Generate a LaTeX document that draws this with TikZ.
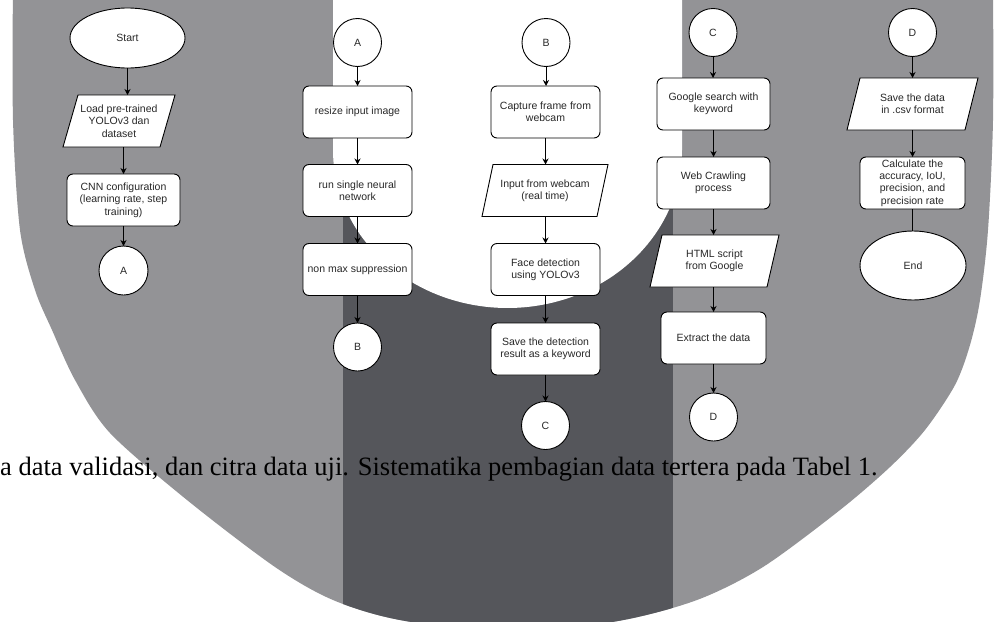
\documentclass[tikz,border=0pt]{standalone}
\usepackage{fontspec}
\setmainfont{Liberation Sans}
\newfontfamily\parafont{Liberation Serif}
\usetikzlibrary{shapes.geometric,arrows.meta}
\pgfdeclarelayer{back}
\pgfdeclarelayer{mid}
\pgfsetlayers{back,mid,main}
\definecolor{lightg}{RGB}{147,147,150}
\definecolor{darkg}{RGB}{85,86,91}
\definecolor{ink}{RGB}{40,40,40}
\tikzset{
 box/.style={draw=black, line width=0.9pt, fill=white, text=ink, align=center, inner sep=1pt, outer sep=0pt, font=\fontsize{10.5}{12.4}\selectfont},
 proc/.style={box, rectangle, rounded corners=6pt, minimum width=109pt, minimum height=52pt},
 conn/.style={box, circle, minimum size=48pt, inner sep=0pt},
 term/.style={box, ellipse, inner sep=0pt},
 iotext/.style={box, draw=none, fill=none, rectangle, minimum height=52pt},
 ioshape/.style={draw=black, line width=0.9pt, fill=white, line join=miter},
 arr/.style={draw=black, line width=0.9pt, -{Stealth[length=6pt,width=6pt]}},
 link/.style={draw=black, line width=0.9pt},
}
\def\outershape{plot[smooth] coordinates {(13,-20) (13,120) (20,230) (35,290) (52,330) (75,380) (110,433) (187,500) (275,567) (333,600) (400,620) (510,633) (618,621) (697,600) (763,567) (840,510) (890,467) (925,430) (955,385) (970,345) (980,300) (988,230) (993,120) (993,-20)} -- cycle}
\begin{document}
\begin{tikzpicture}[x=1pt,y=-1pt]
\useasboundingbox (0,0) rectangle (998,621);
\clip (0,0) rectangle (998,621);
\begin{pgfonlayer}{back}
\fill[white] (0,0) rectangle (998,621);
\fill[lightg] \outershape;
\begin{scope}
\clip \outershape;
\fill[darkg] (343,-20) rectangle (673,660);
\end{scope}
\fill[white] (333,-20) -- (333,150) -- plot[domain=180:360, samples=90] ({507.5+174.5*cos(\x)},{150-158*sin(\x)}) -- (682,-20) -- cycle;
\end{pgfonlayer}

% column 1
\node[term, minimum width=115pt, minimum height=60pt] (start) at (127.5,38) {Start};
\node[iotext, minimum width=112pt] (load) at (119,121) {Load pre-trained\\YOLOv3 dan\\dataset};
\node[proc, minimum width=113pt] (cnn) at (123.5,200) {CNN configuration\\(learning rate, step\\training)};
\node[conn, minimum size=49pt] (a1) at (123.5,270.5) {A};
% column 2
\node[conn] (a2) at (357.5,42.5) {A};
\node[proc] (resize) at (357.5,112) {resize input image};
\node[proc] (run) at (357.5,190.5) {run single neural\\network};
\node[proc] (nms) at (357.5,269.5) {non max suppression};
\node[conn] (b1) at (357.5,347) {B};
% column 3
\node[conn] (b2) at (546,42.5) {B};
\node[proc] (capture) at (545.5,112) {Capture frame from\\webcam};
\node[iotext, minimum width=126pt] (input) at (545,190.5) {Input from webcam\\(real time)};
\node[proc] (face) at (545.5,269.5) {Face detection\\using YOLOv3};
\node[proc] (save) at (545.5,349) {Save the detection\\result as a keyword};
\node[conn] (c1) at (545.5,425.5) {C};
% column 4
\node[conn] (c2) at (713,32.5) {C};
\node[proc, minimum width=113pt] (google) at (713.5,104) {Google search with\\keyword};
\node[proc, minimum width=113pt] (web) at (713.5,183) {Web Crawling\\process};
\node[iotext, minimum width=129pt] (html) at (714.5,261) {HTML script\\from Google};
\node[proc, minimum width=105pt] (extract) at (713.5,338) {Extract the data};
\node[conn] (d1) at (713.5,417) {D};
% column 5
\node[conn] (d2) at (912.5,32.5) {D};
\node[iotext, minimum width=131pt] (csv) at (912.5,104) {Save the data\\in .csv format};
\node[proc, minimum width=105pt] (calc) at (912.5,183) {Calculate the\\accuracy, IoU,\\precision, and\\precision rate};
\node[term, minimum width=106pt, minimum height=69pt] (end) at (913,265.5) {End};

\begin{pgfonlayer}{mid}
\foreach \n/\s in {load/15, input/11, html/12, csv/13} {
  \draw[ioshape] ([xshift=\s pt]\n.north west) -- (\n.north east) -- ([xshift=-\s pt]\n.south east) -- (\n.south west) -- cycle;
}
\end{pgfonlayer}

% connectors
\draw[arr] (start.south) -- (start.south |- load.north);
\draw[arr] (cnn.north |- load.south) -- (cnn.north);
\draw[arr] (cnn.south) -- (a1.north);
\draw[arr] (a2.south) -- (resize.north);
\draw[arr] (resize.south) -- (run.north);
\draw[arr] (run.south) -- (nms.north);
\draw[arr] (nms.south) -- (b1.north);
\draw[arr] (b2.south) -- (b2.south |- capture.north);
\draw[arr] (capture.south) -- (capture.south |- input.north);
\draw[arr] (face.north |- input.south) -- (face.north);
\draw[arr] (face.south) -- (save.north);
\draw[arr] (save.south) -- (c1.north);
\draw[arr] (c2.south) -- (c2.south |- google.north);
\draw[arr] (google.south) -- (web.north);
\draw[arr] (web.south) -- (web.south |- html.north);
\draw[arr] (extract.north |- html.south) -- (extract.north);
\draw[arr] (extract.south) -- (d1.north);
\draw[arr] (d2.south) -- (d2.south |- csv.north);
\draw[arr] (calc.north |- csv.south) -- (calc.north);
\draw[link] (calc.south) -- (calc.south |- end.north);

\node[anchor=base west, inner sep=0pt, font=\parafont\fontsize{26.5}{30}\selectfont, text=black] (para) at (0,475) {a data validasi, dan citra data uji. Sistematika pembagian data tertera pada Tabel 1.};
\end{tikzpicture}
\end{document}
